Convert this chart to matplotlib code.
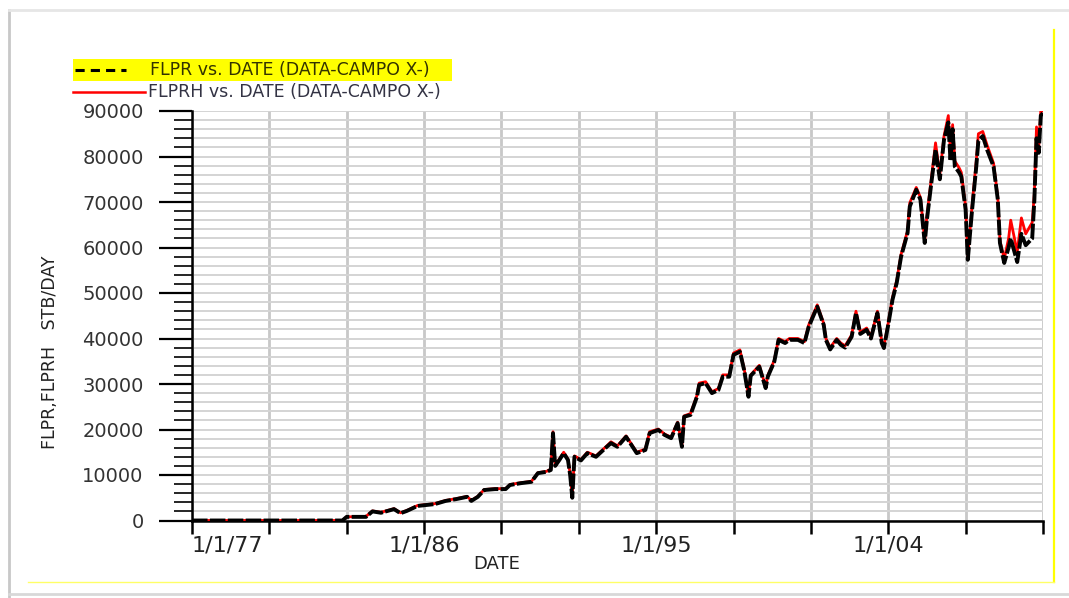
import matplotlib
matplotlib.use("Agg")
import matplotlib.pyplot as plt
from matplotlib.lines import Line2D
from matplotlib.patches import Rectangle
import pandas as pd

# fechas (año-mes) y caudales, STB/DAY
dates = [
    "1977-01", "1982-11", "1983-01", "1983-10", "1984-01", "1984-05", "1984-11",
    "1985-02", "1985-05", "1985-10", "1986-02", "1986-06", "1986-11", "1987-04",
    "1987-09", "1987-11", "1988-02", "1988-05", "1988-10", "1989-03", "1989-05",
    "1989-10", "1990-03", "1990-06", "1990-10", "1990-12", "1991-01", "1991-02",
    "1991-04", "1991-06", "1991-08", "1991-09", "1991-10", "1991-11", "1992-02",
    "1992-05", "1992-09", "1993-02", "1993-04", "1993-07", "1993-11", "1994-02",
    "1994-04", "1994-08", "1994-10", "1995-02", "1995-05", "1995-08", "1995-11",
    "1996-01", "1996-02", "1996-05", "1996-08", "1996-09", "1996-12", "1997-03",
    "1997-06", "1997-08", "1997-11", "1998-01", "1998-04", "1998-06", "1998-08",
    "1998-09", "1999-01", "1999-04", "1999-05", "1999-08", "1999-10", "2000-01",
    "2000-03", "2000-07", "2000-10", "2000-12", "2001-04", "2001-07", "2001-08",
    "2001-10", "2002-01", "2002-03", "2002-05", "2002-08", "2002-10", "2002-12",
    "2003-03", "2003-05", "2003-08", "2003-10", "2003-11", "2004-01", "2004-03",
    "2004-05", "2004-07", "2004-10", "2004-11", "2005-02", "2005-04", "2005-06",
    "2005-07", "2005-09", "2005-11", "2006-01", "2006-03", "2006-05", "2006-06",
    "2006-07", "2006-08", "2006-10", "2006-11", "2007-01", "2007-02", "2007-04",
    "2007-06", "2007-07", "2007-09", "2007-11", "2008-02", "2008-04", "2008-05",
    "2008-07", "2008-09", "2008-10", "2009-01", "2009-02", "2009-03", "2009-05",
    "2009-08", "2009-09", "2009-10", "2009-11", "2009-12", "2010-01",
]
flpr = [
    0, 0, 800, 800, 2000, 1700, 2500,
    1600, 2100, 3200, 3400, 3600, 4300, 4700,
    5200, 4300, 5200, 6700, 6900, 6900, 7800,
    8200, 8500, 10400, 10700, 11100, 19200, 12000,
    13300, 14800, 13300, 10000, 5000, 14000, 13200,
    14800, 14000, 16200, 17000, 16200, 18400, 16200,
    14800, 15500, 19200, 19900, 18800, 18100, 21400,
    16200, 22800, 23200, 27200, 29800, 30200, 28000,
    28700, 31600, 31600, 36400, 37100, 33000, 27200,
    31800, 33800, 29100, 31600, 34900, 39700, 39000,
    39700, 39700, 39000, 42600, 47000, 43000, 39700,
    37600, 39700, 38600, 38000, 40400, 45600, 41000,
    41900, 40000, 45600, 39000, 37900, 43000, 48500,
    52300, 58000, 63200, 69000, 72700, 70500, 61000,
    66000, 74000, 81500, 75000, 83700, 87500, 79000,
    86000, 77800, 76500, 75600, 68300, 57300, 68000,
    77800, 83500, 84500, 81500, 77800, 70500, 61000,
    56600, 60000, 62000, 56800, 60000, 63000, 60500,
    62000, 70500, 84000, 80800, 89000, 89500,
]
flprh = [
    0, 0, 800, 900, 2100, 1800, 2600,
    1700, 2200, 3300, 3500, 3700, 4400, 4800,
    5300, 4400, 5300, 6800, 7000, 7000, 7900,
    8300, 8600, 10500, 10800, 11300, 19500, 12200,
    13500, 15000, 13500, 10200, 5300, 14200, 13400,
    15000, 14200, 16400, 17300, 16400, 18600, 16400,
    15000, 15700, 19500, 20100, 19000, 18300, 21600,
    16500, 23000, 23500, 27500, 30200, 30500, 28300,
    29000, 32000, 32000, 36800, 37500, 33300, 27500,
    32000, 34100, 29400, 31900, 35200, 40000, 39300,
    40000, 40000, 39300, 43000, 47400, 43300, 40000,
    38000, 40000, 39000, 38400, 40800, 46000, 41400,
    42300, 40400, 46000, 39400, 38300, 43400, 49000,
    52800, 58500, 63700, 69800, 73200, 71000, 61500,
    66800, 75000, 83000, 76000, 84500, 89000, 80500,
    87000, 79000, 77500, 76500, 69000, 58000, 69000,
    79000, 85000, 85500, 82500, 78500, 71000, 61500,
    57500, 62000, 66000, 59000, 63000, 66500, 63000,
    65500, 72000, 86500, 82000, 90000, 90000,
]

x_tick_years = list(range(1977, 2011, 3))
x_labeled = {1977: "1/1/77", 1986: "1/1/86", 1995: "1/1/95", 2004: "1/1/04"}
y_ticks = list(range(0, 90001, 10000))

d = pd.to_datetime(dates, format="%Y-%m")

fig = plt.figure(figsize=(10.69, 5.98), dpi=100)
W, H = 1069, 598

# marco de la captura
fig.add_artist(Line2D([9 / W, 9 / W], [0, 1 - 10 / H], color="#c8c8c8", lw=2))
fig.add_artist(Line2D([9 / W, 1], [1 - 10 / H, 1 - 10 / H], color="#e6e6e6", lw=2))
fig.add_artist(Line2D([1054 / W, 1054 / W], [1 - 582 / H, 1 - 30 / H], color="#ffff00", lw=1.6))
fig.add_artist(Line2D([28 / W, 1054 / W], [1 - 582 / H, 1 - 582 / H], color="#ffff66", lw=1))
fig.add_artist(Line2D([9 / W, 1], [1 - 594 / H, 1 - 594 / H], color="#d8d8d8", lw=2))

ax = fig.add_axes([192 / W, (H - 520.5) / H, (1043 - 192) / W, (520.5 - 111) / H])

ax.plot(d, flprh, color="red", lw=2.0, zorder=3)
ax.plot(d, flpr, color="black", lw=2.8, dashes=(4, 0.6), zorder=4)

ax.set_xlim(pd.Timestamp("1977-01-01"), pd.Timestamp("2010-01-01"))
ax.set_ylim(0, 90000)

xt = [pd.Timestamp(f"{y}-01-01") for y in x_tick_years]
ax.set_xticks(xt)
ax.set_xticklabels([x_labeled.get(y, "") for y in x_tick_years], fontsize=16, color="#222222")
ax.get_xticklabels()[0].set_horizontalalignment("left")
ax.set_yticks(y_ticks)
ax.set_yticklabels([str(v) for v in y_ticks], fontsize=14, color="#333333")
ax.set_yticks(range(0, 90001, 2000), minor=True)

ax.tick_params(axis="x", direction="out", length=9.5, width=1.8, pad=1)
ax.tick_params(axis="y", which="major", direction="out", length=23.8, width=1.6, pad=11)
ax.tick_params(axis="y", which="minor", direction="out", length=13, width=1.2)

ax.grid(axis="x", which="major", color="#c8c8c8", lw=2)
ax.grid(axis="y", which="both", color="#d4d4d4", lw=1.4)
ax.set_axisbelow(True)

for s in ["top", "right"]:
    ax.spines[s].set_visible(False)
for s in ["left", "bottom"]:
    ax.spines[s].set_linewidth(1.8)

fig.text(497 / W, 1 - 564 / H, "DATE", fontsize=13, ha="center", va="center", color="#222222")
fig.text(50 / W, 1 - 352 / H, "FLPR,FLPRH   STB/DAY", fontsize=12.5, rotation=90,
         ha="center", va="center", color="#222222")

# leyenda
fig.add_artist(Rectangle((73 / W, 1 - 81 / H), (452 - 73) / W, 22 / H,
                         facecolor="#ffff00", edgecolor="none"))
fig.add_artist(Line2D([75 / W, 126 / W], [1 - 70 / H, 1 - 70 / H], color="black",
                      lw=2.2, dashes=(3, 2)))
fig.text(150 / W, 1 - 70 / H, "FLPR vs. DATE (DATA-CAMPO X-)", fontsize=12.5,
         va="center", color="#333300")
fig.add_artist(Line2D([73 / W, 145 / W], [1 - 92 / H, 1 - 92 / H], color="red", lw=1.8))
fig.text(148 / W, 1 - 92 / H, "FLPRH vs. DATE (DATA-CAMPO X-)", fontsize=12.5,
         va="center", color="#333344")

fig.savefig("out.png", dpi=100)
